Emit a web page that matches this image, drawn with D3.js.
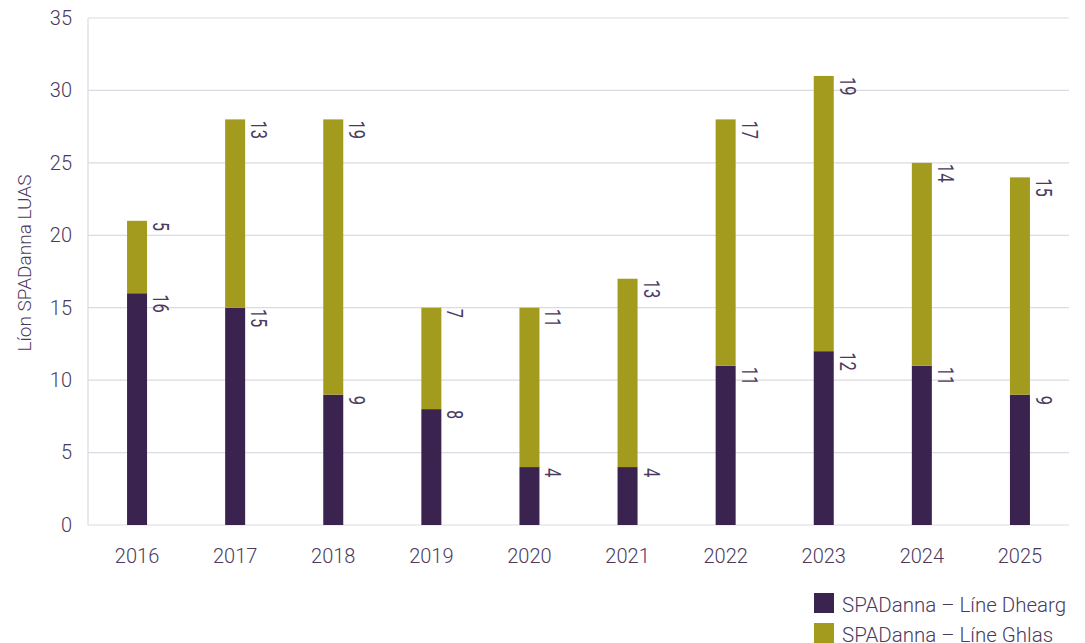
<!DOCTYPE html>
<html><head><meta charset="utf-8">
<script src="https://cdn.jsdelivr.net/npm/d3@7"></script>
<style>body{margin:0;background:#fff}svg{display:block}text{font-family:Roboto,"Noto Sans",sans-serif;font-weight:300;fill:#4a3a60}</style>
</head><body><svg id="c" width="1085" height="643"></svg>
<script>
const years = ["2016","2017","2018","2019","2020","2021","2022","2023","2024","2025"];
const red = [16,15,9,8,4,4,11,12,11,9];
const green = [5,13,19,7,11,13,17,19,14,15];
const yTicks = [0,5,10,15,20,25,30,35];
const seriesNames = ["SPADanna – Líne Dhearg","SPADanna – Líne Ghlas"];
const colors = ["#3b2350","#a39b1e"];

const svg = d3.select("#c");
const m = {l:88, r:1069, t:18, b:525};
const x = d3.scaleBand().domain(years).range([m.l, m.r]);
const y = d3.scaleLinear().domain([0,35]).range([m.b, m.t]);
const bw = 20;

// grid
svg.append("g").selectAll("line").data(yTicks).join("line")
  .attr("x1", m.l).attr("x2", m.r).attr("y1", d=>y(d)).attr("y2", d=>y(d))
  .attr("stroke", "#dcdae2").attr("stroke-width", 1.2);
svg.append("line").attr("x1", m.l).attr("x2", m.l).attr("y1", m.t).attr("y2", m.b)
  .attr("stroke", "#dcdae2").attr("stroke-width", 1.2);

// y labels
const ya = svg.append("g").attr("transform", `translate(${m.l},0)`)
  .call(d3.axisLeft(y).tickValues(yTicks).tickSize(0).tickPadding(16));
ya.select(".domain").remove();
ya.selectAll("text").style("font-size","20px").style("font-family","Roboto").style("font-weight","300").attr("fill","#4a3a60");

// x labels
const xa = svg.append("g").attr("transform", `translate(0,${m.b})`)
  .call(d3.axisBottom(x).tickSize(0).tickPadding(24));
xa.select(".domain").remove();
xa.selectAll("text").style("font-size","20px").style("font-family","Roboto").style("font-weight","300").attr("fill","#4a3a60");

// y title
svg.append("text").attr("transform", `translate(31,263) rotate(-90)`)
  .attr("text-anchor","middle").style("font-size","19px").text("Líon SPADanna LUAS");

const data = years.map((yr,i)=>({yr, a:red[i], b:green[i]}));
const cx = d => x(d.yr) + x.bandwidth()/2;

svg.append("g").selectAll("rect").data(data).join("rect")
  .attr("x", d=>cx(d)-bw/2).attr("width", bw)
  .attr("y", d=>y(d.a)).attr("height", d=>y(0)-y(d.a)).attr("fill", colors[0]);
svg.append("g").selectAll("rect").data(data).join("rect")
  .attr("x", d=>cx(d)-bw/2).attr("width", bw)
  .attr("y", d=>y(d.a+d.b)).attr("height", d=>y(d.a)-y(d.a+d.b)).attr("fill", colors[1]);

// value labels
const lbl = (val, top) => svg.append("g").selectAll("text").data(data).join("text")
  .attr("transform", d=>`translate(${cx(d)+bw/2+6},${y(top(d))+1}) rotate(90) scale(0.75,1)`)
  .attr("text-anchor","start").style("font-size","22px").style("font-weight","400").text(d=>val(d));
lbl(d=>d.a, d=>d.a);
lbl(d=>d.b, d=>d.a+d.b);

// legend
const lg = svg.append("g");
seriesNames.forEach((n,i)=>{
  lg.append("rect").attr("x",814).attr("y",593+i*30).attr("width",20).attr("height",20).attr("fill",colors[i]);
  lg.append("text").attr("x",842).attr("y",612+i*30).style("font-size","20.5px").text(n);
});
</script></body></html>
